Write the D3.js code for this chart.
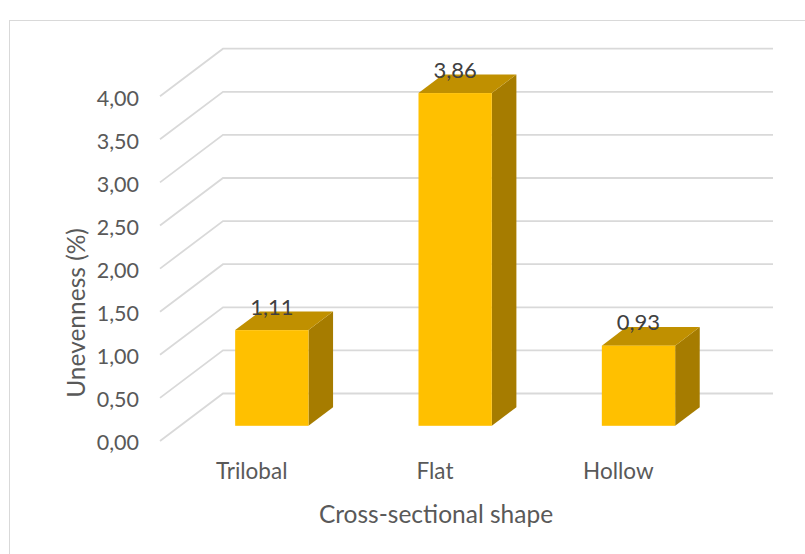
<!DOCTYPE html>
<html>
<head>
<meta charset="utf-8">
<script src="https://cdn.jsdelivr.net/npm/d3@7"></script>
<style>
  body { margin: 0; background: #fff; }
  svg { display: block; }
  text { font-family: Lato, "Open Sans", sans-serif; fill: #595959; }
</style>
</head>
<body>
<svg id="chart" width="805" height="554"></svg>
<script>
// Unevenness by fibre cross-section
const categories = ["Trilobal", "Flat", "Hollow"];
const unevenness = [1.11, 3.86, 0.93];
const yTicks = [0, 0.5, 1, 1.5, 2, 2.5, 3, 3.5, 4];
const yTitle = "Unevenness (%)";
const xTitle = "Cross-sectional shape";

const svg = d3.select("#chart");

// front plane of the 3D box and the depth offset to its back wall
const frontLeft = 160, frontRight = 710, frontBase = 441;
const depthDx = 63, depthDy = -47.5;
// bars sit between these fractions of the depth
const barF0 = 0.32, barF1 = 0.71;

const y = d3.scaleLinear().domain([0, 4]).range([frontBase, frontBase - 4 * 86.2]);
const x = d3.scaleBand().domain(categories).range([frontLeft, frontRight])
  .paddingInner(0.6).paddingOuter(0.3);

const fmt = v => d3.format(".2f")(v).replace(".", ",");

// chart frame
svg.append("rect")
  .attr("x", 9.5).attr("y", 20.5).attr("width", 900).attr("height", 600)
  .attr("fill", "#fff").attr("stroke", "#d9d9d9").attr("stroke-width", 1);

// side-wall and back-wall gridlines
svg.append("g").selectAll("path").data(yTicks).join("path")
  .attr("d", v => {
    const yf = y(v);
    return `M${frontLeft},${yf}L${frontLeft + depthDx},${yf + depthDy}L${frontRight + depthDx},${yf + depthDy}`;
  })
  .attr("fill", "none").attr("stroke", "#d9d9d9").attr("stroke-width", 1.8);

// bars
const bw = x.bandwidth();
const ddx = (barF1 - barF0) * depthDx, ddy = (barF1 - barF0) * depthDy;
const bars = svg.append("g").selectAll("g").data(categories).join("g");
const geom = (c, i) => {
  const x0 = x(c) + barF0 * depthDx;
  const x1 = x0 + bw;
  const yb = y(0) + barF0 * depthDy;
  const yt = y(unevenness[i]) + barF0 * depthDy;
  return { x0, x1, yb, yt };
};
bars.append("path")
  .attr("d", (c, i) => {
    const g = geom(c, i);
    return `M${g.x1},${g.yt}L${g.x1 + ddx},${g.yt + ddy}L${g.x1 + ddx},${g.yb + ddy}L${g.x1},${g.yb}Z`;
  })
  .attr("fill", "#A67C00");
bars.append("path")
  .attr("d", (c, i) => {
    const g = geom(c, i);
    return `M${g.x0},${g.yt}L${g.x1},${g.yt}L${g.x1 + ddx},${g.yt + ddy}L${g.x0 + ddx},${g.yt + ddy}Z`;
  })
  .attr("fill", "#C09000");
bars.append("rect")
  .attr("x", (c, i) => geom(c, i).x0)
  .attr("y", (c, i) => geom(c, i).yt)
  .attr("width", bw)
  .attr("height", (c, i) => geom(c, i).yb - geom(c, i).yt)
  .attr("fill", "#FFC000");

// value labels
svg.append("g").selectAll("text").data(categories).join("text")
  .attr("x", (c, i) => geom(c, i).x0 + bw / 2)
  .attr("y", (c, i) => geom(c, i).yt - 23)
  .attr("dy", "0.35em")
  .attr("text-anchor", "middle")
  .style("font-size", "22px")
  .style("fill", "#404040")
  .text((c, i) => fmt(unevenness[i]));

// value axis labels
const yAxis = svg.append("g")
  .attr("transform", `translate(139,2)`)
  .call(d3.axisLeft(y).tickValues(yTicks).tickFormat(fmt).tickSize(0).tickPadding(0));
yAxis.select(".domain").remove();
yAxis.selectAll("text").style("font-size", "21.5px").style("fill", "#595959").attr("font-family", null);

// category axis labels
const xAxis = svg.append("g")
  .attr("transform", `translate(0,463)`)
  .call(d3.axisBottom(x).tickSize(0).tickPadding(0));
xAxis.select(".domain").remove();
xAxis.selectAll("text").style("font-size", "22.5px").style("fill", "#595959").attr("font-family", null);

// axis titles
svg.append("text")
  .attr("transform", "translate(76,313) rotate(-90)")
  .attr("text-anchor", "middle").attr("dy", "0.35em")
  .style("font-size", "24.5px")
  .text(yTitle);
svg.append("text")
  .attr("x", 436).attr("y", 514)
  .attr("text-anchor", "middle").attr("dy", "0.35em")
  .style("font-size", "24.5px")
  .text(xTitle);
</script>
</body>
</html>
